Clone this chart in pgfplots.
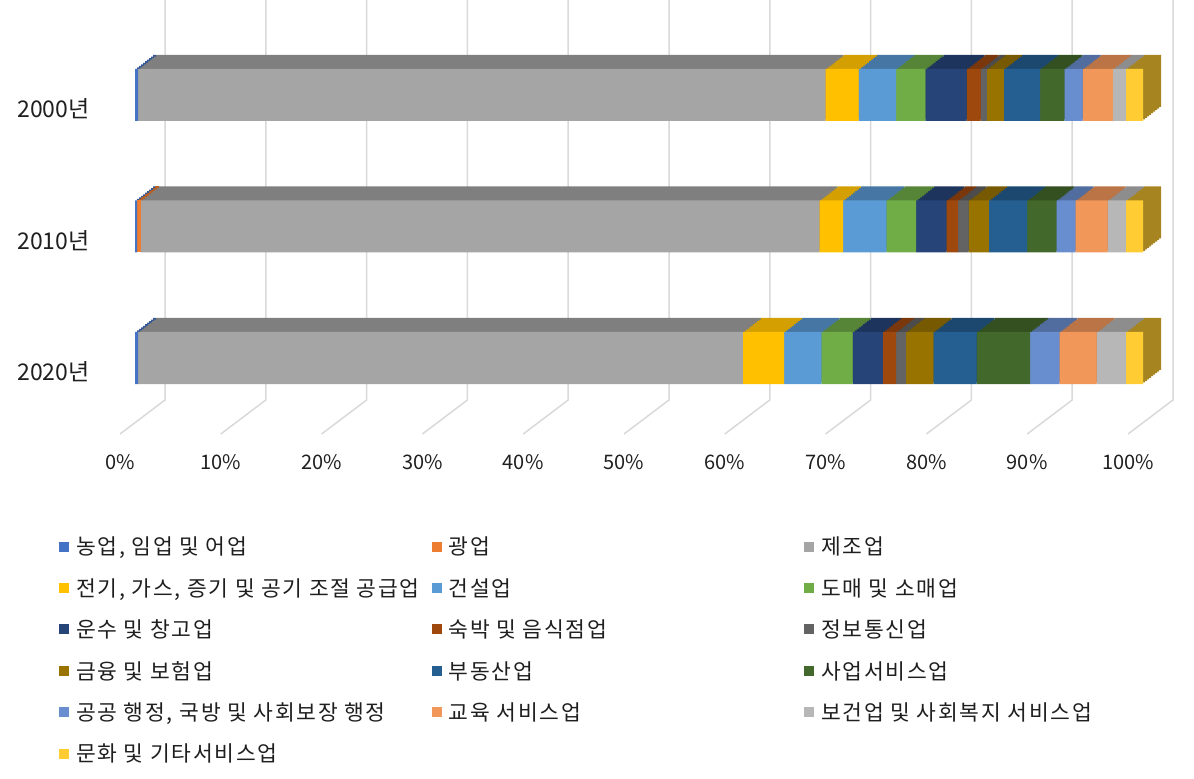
\documentclass[border=0pt]{standalone}
\usepackage{fontspec}
\setmainfont{Noto Sans CJK KR}
\newfontfamily\legfont[LetterSpace=8]{Noto Sans CJK KR}
\usepackage{pgfplots}
\usepackage{pgfplotstable}
\pgfplotsset{compat=1.18}

\definecolor{c1}{HTML}{4472C4}
\definecolor{c2}{HTML}{ED7D31}
\definecolor{c3}{HTML}{A5A5A5}
\definecolor{c4}{HTML}{FFC000}
\definecolor{c5}{HTML}{5B9BD5}
\definecolor{c6}{HTML}{70AD47}
\definecolor{c7}{HTML}{264478}
\definecolor{c8}{HTML}{9E480E}
\definecolor{c9}{HTML}{636363}
\definecolor{c10}{HTML}{997300}
\definecolor{c11}{HTML}{255E91}
\definecolor{c12}{HTML}{43682B}
\definecolor{c13}{HTML}{698ED0}
\definecolor{c14}{HTML}{F1975A}
\definecolor{c15}{HTML}{B7B7B7}
\definecolor{c16}{HTML}{FFCD33}
\definecolor{gridc}{HTML}{D9D9D9}
\definecolor{txt}{HTML}{1F1F1F}

% y: 0 = 2020, 1 = 2010, 2 = 2000 (percent shares)
\pgfplotstableread{
y agr min man ele con who tra acc inf fin rea bus pub edu hea cul
0 0.3 0.0  60.0  4.1  3.7 3.1  3.0 1.3  1.0  2.7 4.3 5.3 2.9 3.7 2.9 1.7
1 0.2 0.35 67.35 2.35 4.3 2.95 3.0 1.15 1.05 2.0 3.8 2.9 1.9 3.2 1.8 1.7
2 0.3 0.0  68.2  3.3  3.7 2.9  4.1 1.4  0.6  1.7 3.6 2.4 1.8 3.0 1.3 1.7
}\data

\newcommand\LE[1]{\makebox[356.5pt][l]{\hspace*{4pt}\strut #1}}

\pgfplotsset{
  base/.style={
    scale only axis, width=1008pt, height=394.5pt,
    xmin=0, xmax=100, ymin=-0.5, ymax=2.5,
    axis line style={draw=none}, tick style={draw=none},
    xbar stacked, bar width=52pt, clip=false,
  },
}

\begin{document}
\begin{tikzpicture}
% ---- gridlines (back wall + floor), axis in image-pixel y units
\begin{axis}[at={(135pt,355.25pt)}, anchor=south west,
  scale only axis, width=1008pt, height=394.5pt,
  xmin=0, xmax=100, ymin=29.25, ymax=423.75, y dir=reverse,
  axis line style={draw=none}, tick style={draw=none},
  xtick=\empty, ytick=\empty, clip=false]
\pgfplotsinvokeforeach{0,10,...,100}{
  \draw[gridc, line width=1.5pt] ([xshift=30pt]axis cs:#1,0) -- ([xshift=30pt]axis cs:#1,400) -- ([xshift=-15pt]axis cs:#1,434);
}
\end{axis}

% ---- depth layers (top / side faces)
\foreach \k in {9,8,...,1}{
\begin{axis}[base, at={(135pt+\k*2pt,355.25pt+\k*1.5556pt)}, anchor=south west,
  xtick=\empty, ytick=\empty]
\addplot[fill=c1!77!black, draw=none] table[x=agr,y=y]{\data};
\addplot[fill=c2!77!black, draw=none] table[x=min,y=y]{\data};
\addplot[fill=c3!77!black, draw=none] table[x=man,y=y]{\data};
\addplot[fill=c4!83!black, draw=none] table[x=ele,y=y]{\data};
\addplot[fill=c5!77!black, draw=none] table[x=con,y=y]{\data};
\addplot[fill=c6!77!black, draw=none] table[x=who,y=y]{\data};
\addplot[fill=c7!77!black, draw=none] table[x=tra,y=y]{\data};
\addplot[fill=c8!77!black, draw=none] table[x=acc,y=y]{\data};
\addplot[fill=c9!77!black, draw=none] table[x=inf,y=y]{\data};
\addplot[fill=c10!77!black, draw=none] table[x=fin,y=y]{\data};
\addplot[fill=c11!77!black, draw=none] table[x=rea,y=y]{\data};
\addplot[fill=c12!77!black, draw=none] table[x=bus,y=y]{\data};
\addplot[fill=c13!77!black, draw=none] table[x=pub,y=y]{\data};
\addplot[fill=c14!77!black, draw=none] table[x=edu,y=y]{\data};
\addplot[fill=c15!77!black, draw=none] table[x=hea,y=y]{\data};
\addplot[fill=c16!65!black, draw=none] table[x=cul,y=y]{\data};
\end{axis}
}

% ---- front faces
\begin{axis}[base, at={(135pt,355.25pt)}, anchor=south west,
  xtick={0,10,...,100},
  xticklabels={0\%,10\%,20\%,30\%,40\%,50\%,60\%,70\%,80\%,90\%,100\%},
  xticklabel style={anchor=center, xshift=-15pt, yshift=-38pt, font=\fontsize{20}{24}\selectfont, text=txt},
  ytick={0,1,2}, yticklabels={2020년,2010년,2000년},
  yticklabel style={anchor=east, xshift=-42pt, yshift=-14pt, font=\fontsize{23}{27}\selectfont, text=txt},
  legend columns=3,
  legend image code/.code={\fill[#1] (0pt,-5pt) rectangle (10pt,5pt);},
  legend style={at={(axis description cs:-0.0754,-0.2795)}, anchor=north west,
    draw=none, fill=none, inner sep=0pt, row sep=16pt, column sep=0pt,
    nodes={inner sep=3pt, anchor=west},
    font=\legfont\fontsize{21.5}{23}\selectfont, text=txt},
  legend cell align=left,
]
\addplot[fill=c1, draw=none] table[x=agr,y=y]{\data}; \addlegendentry{\LE{농업, 임업 및 어업}}
\addplot[fill=c2, draw=none] table[x=min,y=y]{\data}; \addlegendentry{\LE{광업}}
\addplot[fill=c3, draw=none] table[x=man,y=y]{\data}; \addlegendentry{\LE{제조업}}
\addplot[fill=c4, draw=none] table[x=ele,y=y]{\data}; \addlegendentry{\LE{전기, 가스, 증기 및 공기 조절 공급업}}
\addplot[fill=c5, draw=none] table[x=con,y=y]{\data}; \addlegendentry{\LE{건설업}}
\addplot[fill=c6, draw=none] table[x=who,y=y]{\data}; \addlegendentry{\LE{도매 및 소매업}}
\addplot[fill=c7, draw=none] table[x=tra,y=y]{\data}; \addlegendentry{\LE{운수 및 창고업}}
\addplot[fill=c8, draw=none] table[x=acc,y=y]{\data}; \addlegendentry{\LE{숙박 및 음식점업}}
\addplot[fill=c9, draw=none] table[x=inf,y=y]{\data}; \addlegendentry{\LE{정보통신업}}
\addplot[fill=c10, draw=none] table[x=fin,y=y]{\data}; \addlegendentry{\LE{금융 및 보험업}}
\addplot[fill=c11, draw=none] table[x=rea,y=y]{\data}; \addlegendentry{\LE{부동산업}}
\addplot[fill=c12, draw=none] table[x=bus,y=y]{\data}; \addlegendentry{\LE{사업서비스업}}
\addplot[fill=c13, draw=none] table[x=pub,y=y]{\data}; \addlegendentry{\LE{공공 행정, 국방 및 사회보장 행정}}
\addplot[fill=c14, draw=none] table[x=edu,y=y]{\data}; \addlegendentry{\LE{교육 서비스업}}
\addplot[fill=c15, draw=none] table[x=hea,y=y]{\data}; \addlegendentry{\LE{보건업 및 사회복지 서비스업}}
\addplot[fill=c16, draw=none] table[x=cul,y=y]{\data}; \addlegendentry{\LE{문화 및 기타서비스업}}
\end{axis}

\pgfresetboundingbox
\path[use as bounding box] (0pt,0pt) rectangle (1194pt,779pt);
\end{tikzpicture}
\end{document}
